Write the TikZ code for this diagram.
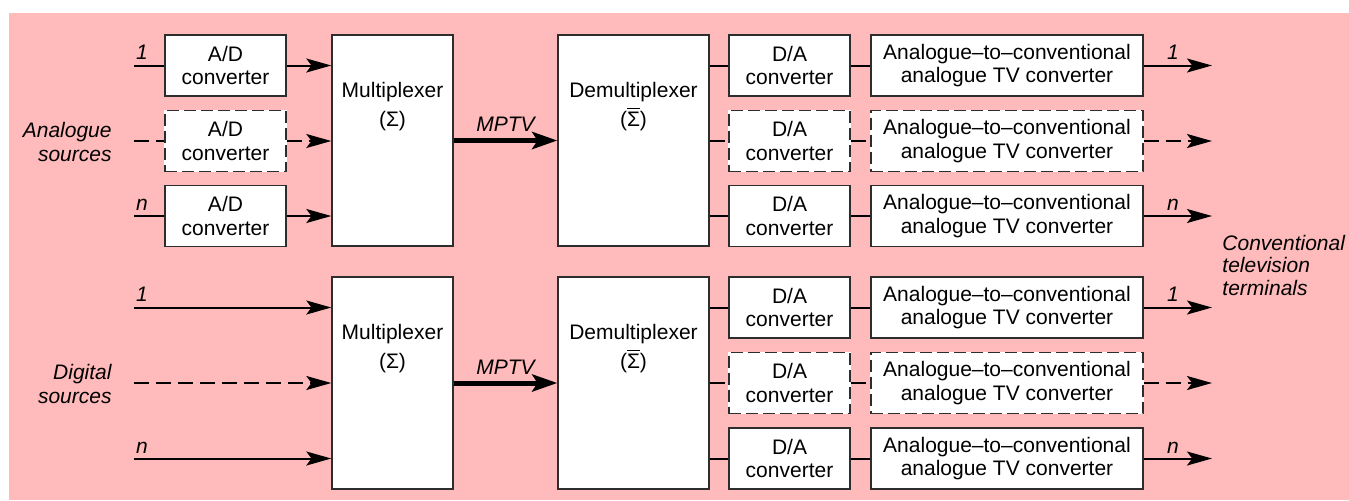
\documentclass[tikz,border=0pt]{standalone}
\usepackage{fontspec}
\setmainfont{Liberation Sans}
\usetikzlibrary{arrows.meta}
\definecolor{bgpink}{RGB}{255,187,187}
\definecolor{edgegray}{RGB}{45,45,45}
\begin{document}
\begin{tikzpicture}[x=0.5pt,y=-0.5pt,
  font=\fontsize{10.5}{11.7}\selectfont,
  box/.style={draw=edgegray, line width=0.7pt, fill=white, inner sep=0pt, align=center, minimum height=30.5pt},
  smallbox/.style={box, minimum width=60.5pt},
  convbox/.style={box, minimum width=136pt},
  mbox/.style={box, minimum width=60.5pt, minimum height=105.5pt},
  dbox/.style={box, minimum width=75.5pt, minimum height=105.5pt},
  dashbox/.style={preaction={draw=white, line width=0.7pt, solid}, dash pattern=on 6pt off 2.5pt},
  conn/.style={line width=1pt},
  dconn/.style={conn, dash pattern=on 7.5pt off 3.5pt},
  arr/.style={conn, -{Stealth[length=12.5pt,width=7pt,inset=2.6pt]}},
  darr/.style={arr, dash pattern=on 7.5pt off 3.5pt},
  bigarr/.style={line width=2.5pt, -{Stealth[length=12.5pt,width=8.5pt,inset=2.6pt]}},
  lbl/.style={font=\fontsize{10.5}{11.7}\selectfont\itshape, inner sep=0pt, anchor=base},
  side/.style={font=\fontsize{10.5}{12}\selectfont\itshape, inner sep=0pt},
  boxtxt/.style={inner sep=0pt, align=center, anchor=north}
]
\useasboundingbox (0,0) rectangle (1349,500);
\fill[bgpink] (9,13) rectangle (1349,500);

% ---------- top group ----------
\coordinate (inA1) at (134,65.5);
\coordinate (inA2) at (134,141);
\coordinate (inA3) at (134,216);
\coordinate (outA1) at (1212,65.5);
\coordinate (outA2) at (1212,141);
\coordinate (outA3) at (1212,216);

\node[smallbox] (ad1) at (225.5,65.5) {A/D\\converter};
\node[smallbox,dashbox] (ad2) at (225.5,141) {A/D\\converter};
\node[smallbox] (ad3) at (225.5,216) {A/D\\converter};
\node[mbox] (muxA) at (392.5,140.5) {};
\node[boxtxt] (muxAt) at (392.5,82) {Multiplexer\\[2.5pt](Σ)};
\node[dbox] (demA) at (633.5,140.5) {};
\node[boxtxt] (demAt) at (633.5,82) {Demultiplexer\\[2.5pt](\ensuremath{\overline{\mbox{Σ}}})};
\node[smallbox] (daA1) at (789.5,65.5) {D/A\\converter};
\node[smallbox,dashbox] (daA2) at (789.5,141) {D/A\\converter};
\node[smallbox] (daA3) at (789.5,216) {D/A\\converter};
\node[convbox] (cvA1) at (1007,65.5) {Analogue–to–conventional\\analogue TV converter};
\node[convbox,dashbox] (cvA2) at (1007,141) {Analogue–to–conventional\\analogue TV converter};
\node[convbox] (cvA3) at (1007,216) {Analogue–to–conventional\\analogue TV converter};

\draw[conn] (inA1) -- (ad1);
\draw[dconn] (inA2) -- (ad2);
\draw[conn] (inA3) -- (ad3);
\draw[arr] (ad1.east) -- (ad1.east -| muxA.west);
\draw[darr] (ad2.east) -- (ad2.east -| muxA.west);
\draw[arr] (ad3.east) -- (ad3.east -| muxA.west);
\draw[bigarr] (muxA) -- node[lbl, anchor=south, above=3.2pt] (mptvA) {MPTV} (demA);
\draw[conn] (daA1.west -| demA.east) -- (daA1.west);
\draw[dconn] (daA2.west -| demA.east) -- (daA2.west);
\draw[conn] (daA3.west -| demA.east) -- (daA3.west);
\draw[conn] (daA1) -- (cvA1);
\draw[dconn] (daA2) -- (cvA2);
\draw[conn] (daA3) -- (cvA3);
\draw[arr] (cvA1) -- (outA1);
\draw[darr] (cvA2) -- (outA2);
\draw[arr] (cvA3) -- (outA3);

\node[lbl] (lA1) at (142,59.5) {1};
\node[lbl] (lA3) at (142,210.5) {n};
\node[lbl] (rA1) at (1173,59.5) {1};
\node[lbl] (rA3) at (1173,210.5) {n};

% ---------- bottom group ----------
\coordinate (inB1) at (134,307.5);
\coordinate (inB2) at (134,383);
\coordinate (inB3) at (134,458.5);
\coordinate (outB1) at (1212,307.5);
\coordinate (outB2) at (1212,383);
\coordinate (outB3) at (1212,458.5);

\node[mbox, minimum height=106pt] (muxB) at (392.5,383) {};
\node[boxtxt] (muxBt) at (392.5,324) {Multiplexer\\[2.5pt](Σ)};
\node[dbox, minimum height=106pt] (demB) at (633.5,383) {};
\node[boxtxt] (demBt) at (633.5,324) {Demultiplexer\\[2.5pt](\ensuremath{\overline{\mbox{Σ}}})};
\node[smallbox] (daB1) at (789.5,307.5) {D/A\\converter};
\node[smallbox,dashbox] (daB2) at (789.5,383) {D/A\\converter};
\node[smallbox] (daB3) at (789.5,458.5) {D/A\\converter};
\node[convbox] (cvB1) at (1007,307.5) {Analogue–to–conventional\\analogue TV converter};
\node[convbox,dashbox] (cvB2) at (1007,383) {Analogue–to–conventional\\analogue TV converter};
\node[convbox] (cvB3) at (1007,458.5) {Analogue–to–conventional\\analogue TV converter};

\draw[arr] (inB1) -- (inB1 -| muxB.west);
\draw[darr] (inB2) -- (inB2 -| muxB.west);
\draw[arr] (inB3) -- (inB3 -| muxB.west);
\draw[bigarr] (muxB) -- node[lbl, anchor=south, above=3.2pt] (mptvB) {MPTV} (demB);
\draw[conn] (daB1.west -| demB.east) -- (daB1.west);
\draw[dconn] (daB2.west -| demB.east) -- (daB2.west);
\draw[conn] (daB3.west -| demB.east) -- (daB3.west);
\draw[conn] (daB1) -- (cvB1);
\draw[dconn] (daB2) -- (cvB2);
\draw[conn] (daB3) -- (cvB3);
\draw[arr] (cvB1) -- (outB1);
\draw[darr] (cvB2) -- (outB2);
\draw[arr] (cvB3) -- (outB3);

\node[lbl] (lB1) at (142,301.5) {1};
\node[lbl] (lB3) at (142,453) {n};
\node[lbl] (rB1) at (1173,301.5) {1};
\node[lbl] (rB3) at (1173,453) {n};

% ---------- side labels ----------
\node[side, align=right, anchor=east] (asrc) at (112,142) {Analogue\\sources};
\node[side, align=right, anchor=east] (dsrc) at (112,384) {Digital\\sources};
\node[side, align=left, anchor=west, font=\fontsize{10.5}{11.25}\selectfont\itshape] (term) at (1222,265) {Conventional\\television\\terminals};
\end{tikzpicture}
\end{document}
